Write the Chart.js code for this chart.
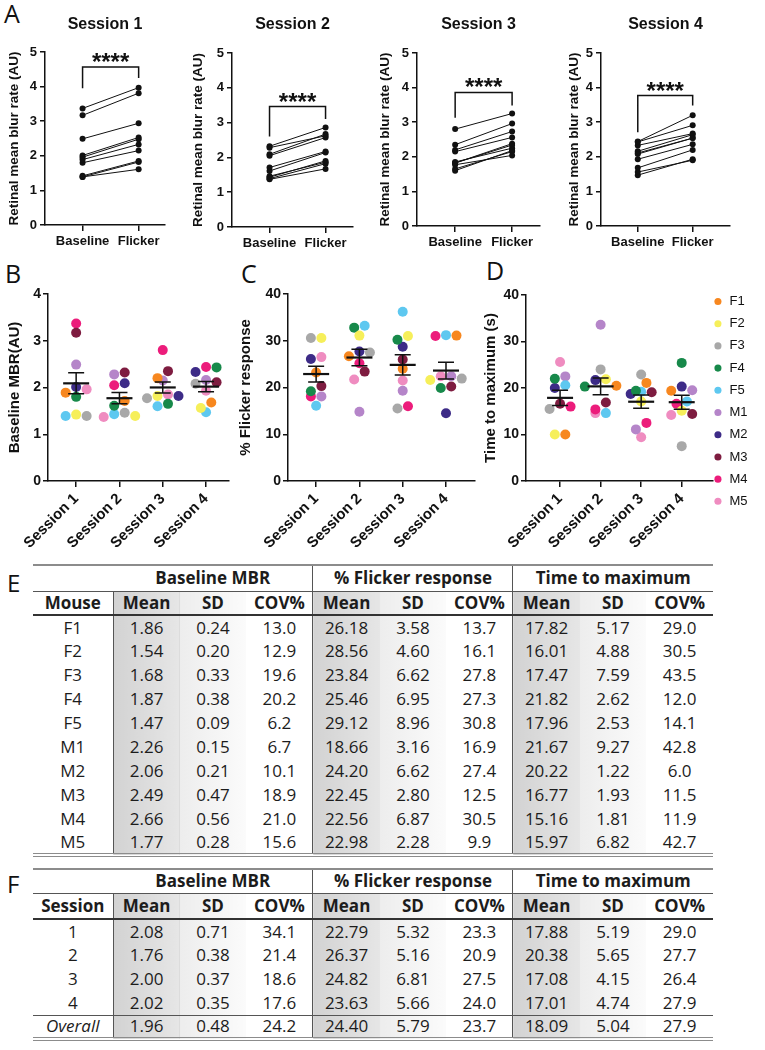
<!DOCTYPE html>
<html>
<head>
<meta charset="utf-8">
<title>Retinal mean blur rate across sessions</title>
<script src="https://cdn.jsdelivr.net/npm/chart.js@4.4.1/dist/chart.umd.min.js"></script>
<style>
  body { margin: 0; background: #fff; }
  #page { position: relative; width: 765px; height: 1050px; overflow: hidden; background: #fff; }
  .panel { position: absolute; }
  .letter { position: absolute; font-family: "Open Sans", sans-serif; font-size: 25px; line-height: 25px; color: #111; }
  table.stats { position: absolute; left: 33px; width: 680px; border-collapse: collapse; table-layout: fixed;
    font-family: "Open Sans", sans-serif; font-size: 17px; color: #1c1c1c;
    border-top: 2px solid #8c8c8c; border-bottom: 4px double #8c8c8c; }
  table.stats td, table.stats th { padding: 0; text-align: center; white-space: nowrap; line-height: 20px; }
  table.stats th { font-weight: 700; }
  table.stats tr.h1 th { border-bottom: 1px solid #555; }
  table.stats tr.h2 th { border-bottom: 2px solid #333; }
  table.stats .vl { border-left: 1px solid #555; }
  table.stats .m { background: linear-gradient(to right, #d2d2d2, #e6e6e6); }
  table.stats .s { background: linear-gradient(to right, #ededed, #fbfbfb); }
  table.stats tr.ov td { border-top: 1px solid #555; }
  table.stats tr.ov td:first-child { font-style: italic; }
</style>
</head>
<body>
<div id="page">
  <div class="letter" style="left:4px; top:1px;">A</div>
  <div class="letter" style="left:5px; top:261px;">B</div>
  <div class="letter" style="left:241px; top:261px;">C</div>
  <div class="letter" style="left:486px; top:258px;">D</div>
  <div class="letter" style="left:7px; top:570px; font-size:24px;">E</div>
  <div class="letter" style="left:7px; top:871px; font-size:24px;">F</div>

  <div class="panel" style="left:0px; top:0px; width:187px; height:262px;"><canvas id="a1"></canvas></div>
  <div class="panel" style="left:187px; top:0px; width:185px; height:264px;"><canvas id="a2"></canvas></div>
  <div class="panel" style="left:372px; top:0px; width:186px; height:263px;"><canvas id="a3"></canvas></div>
  <div class="panel" style="left:558px; top:0px; width:207px; height:263px;"><canvas id="a4"></canvas></div>

  <div class="panel" style="left:0px; top:262px; width:236px; height:294px;"><canvas id="chartB"></canvas></div>
  <div class="panel" style="left:236px; top:262px; width:244px; height:294px;"><canvas id="chartC"></canvas></div>
  <div class="panel" style="left:480px; top:262px; width:285px; height:294px;"><canvas id="chartD"></canvas></div>

  <table class="stats" id="tableE" style="top:564px;"></table>
  <table class="stats" id="tableF" style="top:868px;"></table>
</div>

<script>
// ---- data ----
const mice = ['F1', 'F2', 'F3', 'F4', 'F5', 'M1', 'M2', 'M3', 'M4', 'M5'];
const mouseColors = ['#f7871f', '#f6ef5a', '#a8a8a8', '#17894a', '#5ec8f0', '#b585c9', '#3d2b87', '#7e1c40', '#ec1c7b', '#ef8cc0'];
const sessions = ['Session 1', 'Session 2', 'Session 3', 'Session 4'];
const phases = ['Baseline', 'Flicker'];

// baseline MBR (AU), one value per mouse in the order of `mice`
const baselineS1 = [1.89, 1.42, 1.39, 1.80, 1.39, 2.49, 2.01, 3.17, 3.37, 1.96];
const baselineS2 = [1.71, 1.39, 1.46, 1.61, 1.43, 2.28, 2.09, 2.32, 2.05, 1.37];
const baselineS3 = [2.20, 1.82, 1.77, 1.65, 1.60, 2.15, 1.82, 2.35, 2.80, 1.85];
const baselineS4 = [1.68, 1.56, 2.08, 2.43, 1.47, 2.16, 2.33, 2.11, 2.44, 1.93];

// MBR during flicker (AU)
const flickerS1 = [2.33, 1.85, 1.82, 2.15, 1.61, 2.94, 2.53, 3.81, 3.97, 2.48];
const flickerS2 = [2.17, 1.82, 1.86, 2.14, 1.90, 2.62, 2.67, 2.86, 2.57, 1.67];
const flickerS3 = [2.73, 2.38, 2.04, 2.15, 2.18, 2.56, 2.34, 2.96, 3.25, 2.25];
const flickerS4 = [2.20, 1.90, 2.54, 2.91, 1.93, 2.64, 2.67, 2.54, 3.20, 2.36];

// % flicker response
const responseS1 = [23.2, 30.6, 30.6, 19.2, 16.1, 18.1, 26.1, 20.3, 18.1, 26.5];
const responseS2 = [26.7, 31.1, 27.5, 32.8, 33.2, 14.8, 27.7, 23.4, 25.2, 21.7];
const responseS3 = [24.0, 31.0, 15.5, 30.2, 36.2, 19.3, 28.7, 26.0, 16.0, 21.5];
const responseS4 = [31.1, 21.6, 21.9, 19.9, 31.2, 22.4, 14.5, 20.2, 31.0, 22.4];

// time to maximum (s)
const timeS1 = [10.0, 10.0, 15.5, 22.0, 20.6, 22.5, 20.0, 16.6, 16.0, 25.6];
const timeS2 = [20.5, 21.9, 24.0, 20.3, 14.6, 33.6, 21.7, 16.9, 15.4, 14.6];
const timeS3 = [21.1, 17.1, 22.9, 19.4, 19.2, 11.1, 18.7, 19.1, 12.5, 9.4];
const timeS4 = [19.4, 15.1, 7.5, 25.4, 17.1, 19.5, 20.3, 14.4, 16.6, 14.2];

// significance brackets in panel A (AU)
const sigLabel = ['****', '****', '****', '****'];
const bracketTop = [4.57, 3.46, 3.86, 3.77];
const bracketLeftEnd = [3.95, 2.60, 3.13, 2.71];
const bracketRightEnd = [4.25, 3.10, 3.48, 3.48];

// table E (per mouse)
const mbrMean = [1.86, 1.54, 1.68, 1.87, 1.47, 2.26, 2.06, 2.49, 2.66, 1.77];
const mbrSD = [0.24, 0.20, 0.33, 0.38, 0.09, 0.15, 0.21, 0.47, 0.56, 0.28];
const mbrCOV = [13.0, 12.9, 19.6, 20.2, 6.2, 6.7, 10.1, 18.9, 21.0, 15.6];
const flickMean = [26.18, 28.56, 23.84, 25.46, 29.12, 18.66, 24.20, 22.45, 22.56, 22.98];
const flickSD = [3.58, 4.60, 6.62, 6.95, 8.96, 3.16, 6.62, 2.80, 6.87, 2.28];
const flickCOV = [13.7, 16.1, 27.8, 27.3, 30.8, 16.9, 27.4, 12.5, 30.5, 9.9];
const ttmMean = [17.82, 16.01, 17.47, 21.82, 17.96, 21.67, 20.22, 16.77, 15.16, 15.97];
const ttmSD = [5.17, 4.88, 7.59, 2.62, 2.53, 9.27, 1.22, 1.93, 1.81, 6.82];
const ttmCOV = [29.0, 30.5, 43.5, 12.0, 14.1, 42.8, 6.0, 11.5, 11.9, 42.7];

// table F (per session)
const sessionRows = ['1', '2', '3', '4', 'Overall'];
const sMbrMean = [2.08, 1.76, 2.00, 2.02, 1.96];
const sMbrSD = [0.71, 0.38, 0.37, 0.35, 0.48];
const sMbrCOV = [34.1, 21.4, 18.6, 17.6, 24.2];
const sFlickMean = [22.79, 26.37, 24.82, 23.63, 24.40];
const sFlickSD = [5.32, 5.16, 6.81, 5.66, 5.79];
const sFlickCOV = [23.3, 20.9, 27.5, 24.0, 23.7];
const sTtmMean = [17.88, 20.38, 17.08, 17.01, 18.09];
const sTtmSD = [5.19, 5.65, 4.15, 4.74, 5.04];
const sTtmCOV = [29.0, 27.7, 26.4, 27.9, 27.9];

// ---- charts ----
const ARIAL = '"Liberation Sans", Arial, sans-serif';
const INK = '#111';
Chart.defaults.font.family = ARIAL;
Chart.defaults.color = INK;
Chart.defaults.animation = false;

// asterisks above the bracket
const sigStars = {
  id: 'sigStars',
  afterDatasetsDraw(chart, args, opts) {
    if (!opts.text) return;
    const {ctx, scales: {x, y}} = chart;
    ctx.save();
    ctx.font = 'bold ' + opts.size + 'px ' + ARIAL;
    ctx.fillStyle = INK;
    ctx.textAlign = 'center';
    ctx.textBaseline = 'alphabetic';
    ctx.fillText(opts.text, x.getPixelForValue(0.5), y.getPixelForValue(opts.y) + opts.shift);
    ctx.restore();
  }
};

// mean +/- SEM per session, computed from the plotted points
const meanSem = {
  id: 'meanSem',
  afterDatasetsDraw(chart, args, opts) {
    if (!opts.enabled) return;
    const {ctx, scales: {x, y}} = chart;
    ctx.save();
    ctx.strokeStyle = INK;
    sessions.forEach((name, s) => {
      const vals = chart.data.datasets.map(d => d.data[s].y);
      const n = vals.length;
      const mean = vals.reduce((a, v) => a + v, 0) / n;
      const sd = Math.sqrt(vals.reduce((a, v) => a + (v - mean) ** 2, 0) / (n - 1));
      const sem = sd / Math.sqrt(n);
      const cx = x.getPixelForValue(s);
      const yHi = y.getPixelForValue(mean + sem), yLo = y.getPixelForValue(mean - sem);
      ctx.lineWidth = 1.5;
      ctx.beginPath();
      ctx.moveTo(cx, yHi); ctx.lineTo(cx, yLo);
      ctx.moveTo(cx - opts.cap, yHi); ctx.lineTo(cx + opts.cap, yHi);
      ctx.moveTo(cx - opts.cap, yLo); ctx.lineTo(cx + opts.cap, yLo);
      ctx.stroke();
      ctx.lineWidth = 2.2;
      ctx.beginPath();
      ctx.moveTo(cx - opts.half, y.getPixelForValue(mean));
      ctx.lineTo(cx + opts.half, y.getPixelForValue(mean));
      ctx.stroke();
    });
    ctx.restore();
  }
};
Chart.register(sigStars, meanSem);

function axisLines(tickLength) {
  return {
    grid: {display: true, drawOnChartArea: false, drawTicks: true, tickLength: tickLength, color: INK, lineWidth: 1.5},
    border: {display: true, color: INK, width: 1.5}
  };
}

// panel A layout: y-axis width, right padding, title spacing, x range end
const panelA = [
  {id: 'a1', yW: 45, padR: 22, titlePad: 6, titleBottom: 17.8, xMax: 1.47},
  {id: 'a2', yW: 45, padR: 19, titlePad: 3, titleBottom: 18.8, xMax: 1.49},
  {id: 'a3', yW: 45, padR: 18, titlePad: 5, titleBottom: 18.8, xMax: 1.49},
  {id: 'a4', yW: 43, padR: 35, titlePad: 8, titleBottom: 18.8, xMax: 1.68}
];
const baselineBySession = [baselineS1, baselineS2, baselineS3, baselineS4];
const flickerBySession = [flickerS1, flickerS2, flickerS3, flickerS4];

panelA.forEach((p, s) => {
  const base = baselineBySession[s], flick = flickerBySession[s];
  const datasets = base.map((b, i) => ({
    data: [{x: 0, y: b}, {x: 1, y: flick[i]}],
    showLine: true, borderColor: INK, borderWidth: 1, backgroundColor: INK,
    pointRadius: 3, pointBorderWidth: 0, pointHoverRadius: 3
  }));
  datasets.push({
    data: [{x: 0, y: bracketLeftEnd[s]}, {x: 0, y: bracketTop[s]}, {x: 1, y: bracketTop[s]}, {x: 1, y: bracketRightEnd[s]}],
    showLine: true, borderColor: INK, borderWidth: 1.5, pointRadius: 0
  });
  new Chart(document.getElementById(p.id), {
    type: 'scatter',
    data: {datasets},
    options: {
      responsive: true, maintainAspectRatio: false,
      layout: {padding: {left: 0, right: p.padR, top: 0, bottom: 0}},
      plugins: {
        legend: {display: false}, tooltip: {enabled: false},
        title: {display: true, text: sessions[s], fullSize: false, color: INK,
          font: {size: 16, weight: 'bold', lineHeight: 1.2}, padding: {top: 15, bottom: p.titleBottom}},
        sigStars: {text: sigLabel[s], y: bracketTop[s], size: 24, shift: 3}
      },
      scales: {
        x: {
          type: 'linear', min: -0.67, max: p.xMax,
          afterBuildTicks: sc => { sc.ticks = [{value: 0}, {value: 1}]; },
          afterFit: sc => { sc.height = 37; },
          ...axisLines(6),
          ticks: {color: INK, padding: 3, maxRotation: 0, font: {size: 13, weight: 'bold'}, callback: v => phases[v]}
        },
        y: {
          min: 0, max: 5,
          afterFit: sc => { sc.width = p.yW; },
          ...axisLines(5),
          ticks: {stepSize: 1, color: INK, padding: 3, font: {size: 13, weight: 'bold'}},
          title: {display: true, text: 'Retinal mean blur rate (AU)', color: INK,
            font: {size: 13.5, weight: 'bold', lineHeight: 1.2}, padding: {top: p.titlePad, bottom: 0}}
        }
      }
    }
  });
});

// lay the dots of each session out in centred rows, like a column scatter
function spread(chart, slotPx, rowGapPx) {
  const {x, y} = chart.scales;
  const pxPerX = x.getPixelForValue(1) - x.getPixelForValue(0);
  sessions.forEach((name, s) => {
    const pts = chart.data.datasets.map(d => d.data[s]).sort((a, b) => b.y - a.y);
    let row = [];
    const flush = () => {
      const n = row.length;
      row.forEach((pt, j) => {
        const slot = n % 2 ? (j % 2 ? 1 : -1) * Math.ceil(j / 2) : (j % 2 ? -1 : 1) * (Math.floor(j / 2) + 0.5);
        pt.x = s + slot * slotPx / pxPerX;
      });
      row = [];
    };
    pts.forEach(pt => {
      if (row.length && y.getPixelForValue(pt.y) - y.getPixelForValue(row[0].y) >= rowGapPx) flush();
      row.push(pt);
    });
    flush();
  });
  chart.update('none');
}

function swarmChart(id, bySession, cfg) {
  const datasets = mice.map((name, m) => ({
    label: name,
    data: bySession.map((vals, s) => ({x: s, y: vals[m]})),
    backgroundColor: mouseColors[m], borderColor: mouseColors[m],
    pointRadius: 5, pointHoverRadius: 5, pointBorderWidth: 0, borderWidth: 0
  }));
  const chart = new Chart(document.getElementById(id), {
    type: 'scatter',
    data: {datasets},
    options: {
      responsive: true, maintainAspectRatio: false,
      layout: {padding: cfg.padding},
      plugins: {
        tooltip: {enabled: false},
        legend: cfg.legend || {display: false},
        meanSem: {enabled: true, half: 13, cap: 8}
      },
      scales: {
        x: {
          type: 'linear', min: cfg.xMin, max: cfg.xMax,
          afterBuildTicks: sc => { sc.ticks = sessions.map((n, i) => ({value: i})); },
          afterFit: sc => { sc.height = 75; },
          ...axisLines(6),
          ticks: {color: INK, padding: 3, minRotation: 45, maxRotation: 45, font: {size: 15, weight: 'bold'},
            callback: v => sessions[v]}
        },
        y: {
          min: 0, max: cfg.yMax,
          afterFit: sc => { sc.width = cfg.yW; },
          ...axisLines(5),
          ticks: {stepSize: cfg.yStep, color: INK, padding: 2, font: {size: 14, weight: 'bold'}},
          title: {display: true, text: cfg.yTitle, color: INK,
            font: {size: 15, weight: 'bold', lineHeight: 1.2}, padding: {top: cfg.titlePad, bottom: 0}}
        }
      }
    }
  });
  spread(chart, 10.5, 8);
  return chart;
}

swarmChart('chartB', [baselineS1, baselineS2, baselineS3, baselineS4], {
  padding: {left: 0, right: 7, top: 32, bottom: 0},
  xMin: -0.65, xMax: 3.53, yMax: 4, yStep: 1, yW: 48, titlePad: 5.5, yTitle: 'Baseline MBR(AU)'
});

swarmChart('chartC', [responseS1, responseS2, responseS3, responseS4], {
  padding: {left: 0, right: 5, top: 32, bottom: 0},
  xMin: -0.65, xMax: 3.67, yMax: 40, yStep: 10, yW: 52, titlePad: 1, yTitle: '% Flicker response'
});

swarmChart('chartD', [timeS1, timeS2, timeS3, timeS4], {
  padding: {left: 0, right: 7.5, top: 33, bottom: 0},
  xMin: -0.84, xMax: 3.77, yMax: 40, yStep: 10, yW: 46, titlePad: 2, yTitle: 'Time to maximum (s)',
  legend: {
    display: true, position: 'right', align: 'start',
    labels: {
      usePointStyle: true, pointStyle: 'circle', boxWidth: 10, boxHeight: 5, padding: 0,
      color: INK, font: {size: 13, lineHeight: 1.708},
      // one-line arrays so each entry takes a full line height
      generateLabels: chart => Chart.defaults.plugins.legend.labels.generateLabels(chart)
        .map(item => Object.assign(item, {text: [item.text]}))
    }
  }
});

// ---- tables ----
function buildTable(el, firstHead, labels, groups, rowH) {
  let html = '<colgroup><col style="width:80px">' + '<col style="width:66.67px">'.repeat(9) + '</colgroup>';
  html += '<tr class="h1" style="height:' + rowH[0] + 'px"><th></th>' +
    groups.map((g, i) => '<th colspan="3"' + (i ? ' class="vl"' : '') + '>' + g.title + '</th>').join('') + '</tr>';
  html += '<tr class="h2" style="height:' + rowH[1] + 'px"><th>' + firstHead + '</th>' +
    groups.map(() => '<th class="m vl">Mean</th><th class="s">SD</th><th>COV%</th>').join('') + '</tr>';
  labels.forEach((lab, r) => {
    const cls = lab === 'Overall' ? ' class="ov"' : '';
    html += '<tr' + cls + ' style="height:' + rowH[2] + 'px"><td>' + lab + '</td>' +
      groups.map(g => '<td class="m vl">' + g.mean[r].toFixed(2) + '</td><td class="s">' + g.sd[r].toFixed(2) +
        '</td><td>' + g.cov[r].toFixed(1) + '</td>').join('') + '</tr>';
  });
  el.innerHTML = html;
}

buildTable(document.getElementById('tableE'), 'Mouse', mice, [
  {title: 'Baseline MBR', mean: mbrMean, sd: mbrSD, cov: mbrCOV},
  {title: '% Flicker response', mean: flickMean, sd: flickSD, cov: flickCOV},
  {title: 'Time to maximum', mean: ttmMean, sd: ttmSD, cov: ttmCOV}
], [26, 24, 24]);

buildTable(document.getElementById('tableF'), 'Session', sessionRows, [
  {title: 'Baseline MBR', mean: sMbrMean, sd: sMbrSD, cov: sMbrCOV},
  {title: '% Flicker response', mean: sFlickMean, sd: sFlickSD, cov: sFlickCOV},
  {title: 'Time to maximum', mean: sTtmMean, sd: sTtmSD, cov: sTtmCOV}
], [24, 26, 24]);
</script>
</body>
</html>
